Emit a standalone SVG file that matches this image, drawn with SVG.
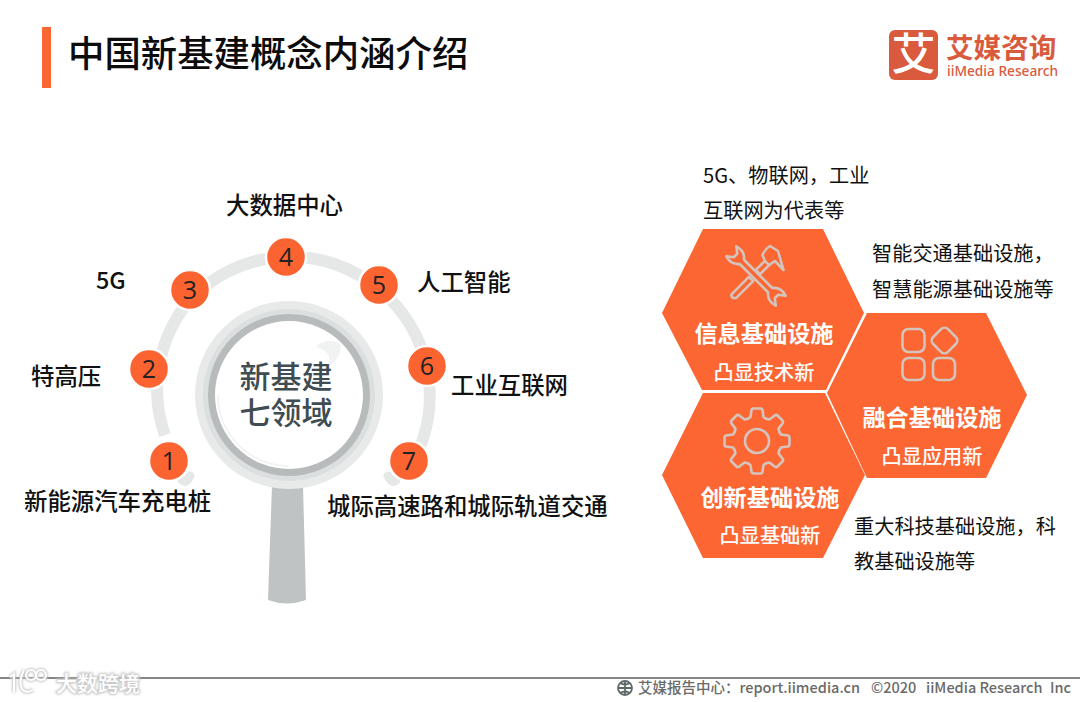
<svg xmlns="http://www.w3.org/2000/svg" xmlns:xlink="http://www.w3.org/1999/xlink" width="1080" height="702" viewBox="0 0 1080 702">
<style>
text{font-family:"Noto Sans CJK SC","Noto Sans",sans-serif;fill:#111}
.lb{font-size:23.4px;font-weight:500}
.sm{font-size:20.2px;font-weight:400}
.num{font-size:25px;font-family:"Open Sans","Noto Sans",sans-serif;text-anchor:middle;fill:#222}
.nc{fill:#fb6331;stroke:#fff;stroke-width:2.5}
.hex{fill:#fb6633}
.ht{font-size:23.2px;font-weight:700;fill:#fff;text-anchor:middle}
.hs{font-size:20.2px;font-weight:500;fill:#fff;text-anchor:middle}
.ic{fill:none;stroke:#d4c4bc;stroke-width:2.6;stroke-linejoin:round;stroke-linecap:round}
.ft{font-size:14.5px;font-weight:500;fill:#6a6a6a}
</style>
<defs>
<path id="tooth" d="M-9.2-22.2L-6.5-24L-5.5-31Q-5-32.500-3.500-32.500L3.500-32.500Q5-32.500 5.500-31L6.500-24L9.2-22.2" class="ic"/>
<filter id="soft" x="-10%" y="-30%" width="120%" height="160%"><feGaussianBlur stdDeviation="0.8"/></filter>
</defs>
<rect width="1080" height="702" fill="#fff"/>

<g id="header">
<rect x="42" y="27" width="9" height="61" fill="#fb6633"/>
<text x="68" y="67" font-size="36.4" font-weight="500" style="fill:#0c0c0c">中国新基建概念内涵介绍</text>
</g>
<g id="logo">
<rect x="889" y="30" width="49" height="50" rx="6" fill="#d95a3c"/>
<text x="913.500" y="70" font-size="44" font-weight="500" text-anchor="middle" style="fill:#fff">艾</text>
<text x="946" y="58" font-size="27.600" font-weight="700" style="fill:#d95a3c">艾媒咨询</text>
<text x="947" y="75.500" font-size="13.700" font-weight="500" style="fill:#d95a3c;font-family:'Noto Sans',sans-serif">iiMedia Research</text>
</g>

<g id="connectors" fill="none" stroke="#e6e8e8" stroke-width="12">
<path d="M165 435A138 138 0 0 1 189 301"/>
<path d="M189 301A138 138 0 0 1 379 289"/>
<path d="M379 289A138 138 0 0 1 414 460"/>
<path d="M182 480Q186 484 190 476" stroke-width="9" stroke-linecap="round"/>
<path d="M396 480Q392 484 388 476" stroke-width="9" stroke-linecap="round"/>
</g>

<g id="magnifier">
<path d="M272 485L303 485L306 600Q287 607 268 600Z" fill="#bfc3c4"/>
<circle cx="289" cy="395" r="94" fill="#e8eaea"/>
<circle cx="289" cy="395" r="86" fill="#dcdfdf"/>
<circle cx="289" cy="395" r="81" fill="#b8bbbc"/>
<circle cx="289" cy="395" r="74" fill="#fff"/>
<path d="M316 347A18 18 0 0 1 341 345Q341 358 328 367Q334 352 316 347Z" fill="#f1f2f2"/>
<path d="M218 395A71 71 0 0 0 289 466" fill="none" stroke="#f0f1f1" stroke-width="1.500"/>
<text x="286" y="388" font-size="31" font-weight="500" text-anchor="middle" style="fill:#3f4c52">新基建</text>
<text x="286" y="424" font-size="31" font-weight="500" text-anchor="middle" style="fill:#3f4c52">七领域</text>
</g>

<g id="node1"><circle class="nc" cx="169" cy="461" r="20"/><text class="num" x="169" y="470">1</text><text class="lb" x="24" y="510">新能源汽车充电桩</text></g>
<g id="node2"><circle class="nc" cx="149" cy="369" r="20"/><text class="num" x="149" y="378">2</text><text class="lb" x="31" y="385">特高压</text></g>
<g id="node3"><circle class="nc" cx="190" cy="290" r="20"/><text class="num" x="190" y="299">3</text><text class="lb" x="96" y="289">5G</text></g>
<g id="node4"><circle class="nc" cx="286" cy="257" r="20"/><text class="num" x="286" y="266">4</text><text class="lb" x="226" y="214">大数据中心</text></g>
<g id="node5"><circle class="nc" cx="379" cy="285" r="20"/><text class="num" x="379" y="294">5</text><text class="lb" x="417" y="291">人工智能</text></g>
<g id="node6"><circle class="nc" cx="427" cy="366" r="20"/><text class="num" x="427" y="375">6</text><text class="lb" x="451" y="394">工业互联网</text></g>
<g id="node7"><circle class="nc" cx="409" cy="461" r="20"/><text class="num" x="409" y="470">7</text><text class="lb" x="327" y="515">城际高速路和城际轨道交通</text></g>

<g id="hex-info">
<polygon class="hex" points="662,313 703,229 823,229 864,313 826,390 702,390"/>
<g class="ic">
<path transform="translate(756 276) rotate(45)" d="M-20-3L20-3C24-8 29-9 35-7L29-2.500L29 2.500L35 7C29 9 24 8 20 3L-20 3C-24 8-29 9-35 7L-29 2.500L-29-2.500L-35-7C-29-9-24-8-20-3Z"/>
<path d="M748.900 276.900L753.100 281.100L737 297.200Q734.500 299 732.500 297.500Q730.500 295.500 732 293.800Z"/>
<path d="M755.900 269.900L760.100 274.100L769.100 265.100L764.900 260.900Z"/>
<path d="M764.900 260.900L762.500 255Q765 249 770 246L778 251L783.500 270L775 261L769.100 265.100"/>
</g>
<text class="ht" x="764" y="342">信息基础设施</text>
<text class="hs" x="764" y="380">凸显技术新</text>
</g>
<g id="hex-fusion">
<polygon class="hex" points="827,393 867,313 986,313 1027,395 986,478 867,478"/>
<g class="ic">
<rect x="902.500" y="329" width="22" height="23" rx="6"/>
<rect x="934" y="330" width="21" height="21" rx="5" transform="rotate(45 944.500 340.500)"/>
<rect x="902.500" y="358" width="22" height="22" rx="6"/>
<rect x="933" y="358" width="22" height="22" rx="6"/>
</g>
<text class="ht" x="932" y="426">融合基础设施</text>
<text class="hs" x="932" y="464">凸显应用新</text>
</g>
<g id="hex-innovation">
<polygon class="hex" points="662,475 703,393 825,393 865,475 823,558 703,558"/>
<g transform="translate(757 441)">
<use xlink:href="#tooth"/><use xlink:href="#tooth" transform="rotate(45)"/><use xlink:href="#tooth" transform="rotate(90)"/><use xlink:href="#tooth" transform="rotate(135)"/><use xlink:href="#tooth" transform="rotate(180)"/><use xlink:href="#tooth" transform="rotate(225)"/><use xlink:href="#tooth" transform="rotate(270)"/><use xlink:href="#tooth" transform="rotate(315)"/>
<circle r="12" class="ic"/>
</g>
<text class="ht" x="770" y="506">创新基础设施</text>
<text class="hs" x="770" y="543">凸显基础新</text>
</g>

<g id="notes">
<text class="sm" x="703" y="183">5G、物联网，工业</text>
<text class="sm" x="703" y="218">互联网为代表等</text>
<text class="sm" x="872" y="261">智能交通基础设施，</text>
<text class="sm" x="872" y="297">智慧能源基础设施等</text>
<text class="sm" x="854" y="534">重大科技基础设施，科</text>
<text class="sm" x="854" y="569">教基础设施等</text>
</g>

<g id="footer">
<rect x="0" y="677" width="1080" height="2" fill="#858585"/>
<g fill="none" stroke="#5e6a6a" stroke-width="1.800">
<circle cx="625" cy="688" r="7"/><path d="M618 688H632M625 681V695M620 683Q625 686 630 683M620 693Q625 690 630 693"/>
</g>
<text class="ft" x="638" y="693">艾媒报告中心：report.iimedia.cn</text>
<text class="ft" x="871" y="693">©2020</text>
<text class="ft" x="926" y="693">iiMedia Research</text>
<text class="ft" x="1050" y="693">Inc</text>
</g>

<g id="watermark">
<g filter="url(#soft)" fill="none" stroke="#c8c8c8" stroke-width="4">
<path d="M10 677L14 674V692M24 670Q18 682 22 689Q26 694 33 690"/><circle cx="31" cy="675" r="5"/><circle cx="41" cy="675" r="5"/>
</g>
<g fill="none" stroke="#fff" stroke-width="2">
<path d="M10 677L14 674V692M24 670Q18 682 22 689Q26 694 33 690"/><circle cx="31" cy="675" r="5"/><circle cx="41" cy="675" r="5"/>
</g>
<text x="56" y="691" font-size="21" font-weight="500" filter="url(#soft)" style="fill:none;stroke:#c8c8c8;stroke-width:2.500">大数跨境</text>
<text x="56" y="691" font-size="21" font-weight="500" style="fill:#fff">大数跨境</text>
</g>
</svg>
